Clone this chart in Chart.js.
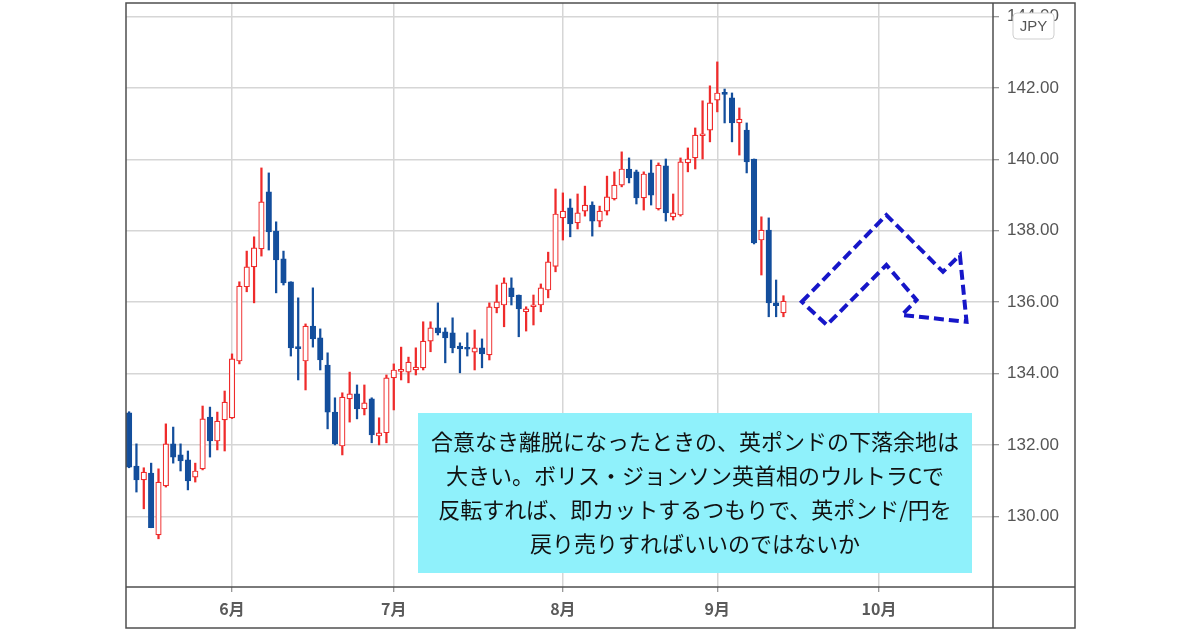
<!DOCTYPE html>
<html lang="ja">
<head>
<meta charset="utf-8">
<title>英ポンド/円 日足</title>
<script src="https://cdn.jsdelivr.net/npm/chart.js@4.4.1/dist/chart.umd.min.js"></script>
<style>
  html, body { margin: 0; padding: 0; background: #fff; }
  #wrap { width: 1200px; height: 630px; }
</style>
</head>
<body>
<div id="wrap"><canvas id="gbpjpyChart" width="1200" height="630"></canvas></div>
<script>
// 日足 (営業日インデックス 0 = 5月中旬, 89 = 9月14日)
const opens = [
  132.90, 131.41, 131.02, 131.21, 129.48, 130.85, 132.03, 131.72, 131.58, 131.10,
  131.33, 132.78, 132.11, 132.70, 132.76, 134.35, 136.43, 136.99, 137.49, 139.09,
  137.99, 137.21, 136.57, 134.72, 134.35, 135.33, 135.00, 134.24, 132.92, 131.97,
  133.29, 133.43, 133.01, 133.29, 132.25, 132.34, 133.88, 134.06, 134.04, 134.10,
  134.16, 134.91, 135.28, 135.17, 135.14, 134.77, 134.70, 134.60, 134.72, 134.52,
  135.84, 135.92, 136.40, 136.20, 135.73, 135.87, 135.92, 136.34, 137.00, 138.36,
  138.64, 138.22, 138.55, 138.72, 138.27, 138.55, 138.89, 139.28, 139.73, 139.65,
  138.92, 139.62, 138.61, 139.82, 138.39, 138.44, 139.90, 140.04, 140.66, 140.82,
  141.66, 141.85, 141.72, 141.02, 140.82, 140.01, 137.74, 138.02, 135.98, 135.70
];
const highs = [
  132.93, 132.03, 131.36, 131.49, 131.33, 132.59, 132.50, 132.03, 131.83, 131.49,
  133.09, 133.06, 132.92, 133.51, 134.55, 136.57, 137.43, 137.83, 139.76, 139.62,
  138.25, 137.43, 136.57, 136.12, 135.39, 136.40, 135.25, 134.58, 133.32, 133.46,
  134.04, 133.68, 133.68, 133.32, 132.76, 133.96, 134.27, 134.74, 134.46, 134.72,
  135.45, 135.45, 135.98, 135.28, 135.56, 134.86, 135.14, 135.22, 134.97, 135.98,
  136.48, 136.68, 136.68, 136.20, 135.87, 136.20, 136.51, 137.40, 139.17, 139.06,
  138.89, 139.03, 139.25, 138.81, 138.69, 139.53, 139.65, 140.21, 140.04, 139.70,
  139.65, 139.98, 139.90, 140.01, 139.03, 140.04, 140.32, 140.88, 141.64, 142.06,
  142.73, 141.97, 141.86, 141.44, 141.02, 140.01, 138.39, 138.36, 136.62, 136.18
];
const lows = [
  131.36, 130.68, 130.21, 129.68, 129.37, 130.82, 131.49, 131.27, 130.74, 130.96,
  131.30, 131.66, 131.86, 131.83, 132.74, 134.27, 136.29, 135.98, 137.29, 137.46,
  136.26, 136.48, 134.49, 133.82, 133.54, 134.74, 134.10, 132.45, 132.00, 131.72,
  132.64, 132.73, 132.84, 132.06, 132.00, 132.06, 132.98, 133.82, 133.74, 133.96,
  134.10, 134.61, 135.08, 134.30, 134.58, 134.02, 134.49, 134.10, 134.16, 134.38,
  135.70, 135.31, 135.92, 135.03, 135.19, 135.36, 135.73, 136.12, 136.85, 137.74,
  137.83, 138.05, 138.41, 137.85, 138.11, 138.44, 138.86, 139.23, 139.34, 138.75,
  138.58, 138.72, 138.58, 138.27, 138.30, 138.41, 139.65, 139.73, 140.01, 140.49,
  141.33, 141.02, 140.49, 140.12, 139.62, 137.63, 136.76, 135.59, 135.59, 135.59
];
const closes = [
  131.38, 131.02, 131.24, 129.68, 130.96, 132.03, 131.66, 131.55, 130.99, 131.27,
  132.73, 132.11, 132.67, 133.20, 134.41, 136.45, 136.99, 137.52, 138.81, 137.97,
  137.18, 136.54, 134.72, 134.70, 135.33, 134.97, 134.38, 132.92, 132.03, 133.34,
  133.43, 133.01, 133.18, 132.28, 132.34, 133.88, 134.10, 134.09, 134.32, 134.18,
  134.91, 135.28, 135.14, 135.00, 134.72, 134.69, 134.68, 134.72, 134.55, 135.87,
  136.01, 136.54, 136.15, 135.81, 135.81, 135.92, 136.40, 137.13, 138.47, 138.55,
  138.19, 138.50, 138.72, 138.27, 138.55, 138.95, 139.28, 139.73, 139.48, 138.92,
  139.59, 139.00, 139.84, 138.50, 138.50, 139.93, 140.01, 140.68, 140.71, 141.58,
  141.86, 141.82, 141.02, 141.13, 139.93, 137.66, 138.02, 135.98, 135.90, 136.03
];

// 月初の営業日インデックスと目盛りラベル
const monthTicks = [14, 36, 59, 80, 102];
const monthLabels = ['6月', '7月', '8月', '9月', '10月'];
const priceTicks = [130, 132, 134, 136, 138, 140, 142, 144];

// 今後の想定シナリオ（破線の矢印）: 営業日インデックス / 価格
const arrowIdx = [91.5, 103.0, 110.7, 113.0, 113.9, 105.1, 107.1, 103.0, 94.9];
const arrowPrice = [136.01, 138.44, 136.85, 137.32, 135.45, 135.64, 136.06, 137.04, 135.36];

const commentLines = [
  '合意なき離脱になったときの、英ポンドの下落余地は',
  '大きい。ボリス・ジョンソン英首相のウルトラCで',
  '反転すれば、即カットするつもりで、英ポンド/円を',
  '戻り売りすればいいのではないか'
];

const UP = '#ef2b2b';
const DOWN = '#134e9c';

const isUp = closes.map((c, i) => c >= opens[i]);
const bodies = opens.map((o, i) => ({ x: i, y: [o, closes[i]] }));
const wicks = lows.map((l, i) => ({ x: i, y: [l, highs[i]] }));

const overlayPlugin = {
  id: 'overlay',
  afterDatasetsDraw(chart) {
    const { ctx, scales: { x, y } } = chart;

    // 破線の矢印
    ctx.save();
    ctx.beginPath();
    arrowIdx.forEach((v, i) => {
      const px = x.getPixelForValue(v);
      const py = y.getPixelForValue(arrowPrice[i]);
      if (i === 0) ctx.moveTo(px, py); else ctx.lineTo(px, py);
    });
    ctx.closePath();
    ctx.setLineDash([10, 5]);
    ctx.lineWidth = 4;
    ctx.strokeStyle = '#1616c8';
    ctx.stroke();
    ctx.restore();

    // コメント枠
    const bx = 418, by = 413, bw = 554, bh = 160;
    ctx.save();
    ctx.fillStyle = '#8ff1fb';
    ctx.fillRect(bx, by, bw, bh);
    ctx.fillStyle = '#111';
    ctx.font = '22px "Noto Sans CJK JP"';
    ctx.textAlign = 'center';
    ctx.textBaseline = 'middle';
    const lh = 34;
    const y0 = by + bh / 2 - lh * (commentLines.length - 1) / 2;
    commentLines.forEach((t, i) => ctx.fillText(t, bx + bw / 2, y0 + i * lh));
    ctx.restore();
  },
  afterDraw(chart) {
    const { ctx, chartArea: a } = chart;
    const outerRight = a.right + 82;
    const outerBottom = a.bottom + 41;
    ctx.save();
    ctx.strokeStyle = '#4f4f4f';
    ctx.lineWidth = 1.5;
    ctx.strokeRect(a.left, a.top, outerRight - a.left, outerBottom - a.top);
    ctx.beginPath();
    ctx.moveTo(a.right, a.top);
    ctx.lineTo(a.right, outerBottom);
    ctx.moveTo(a.left, a.bottom);
    ctx.lineTo(outerRight, a.bottom);
    ctx.stroke();

    // 通貨バッジ
    const bx = a.right + 20, by = 13, bw = 41, bh = 26;
    ctx.beginPath();
    ctx.roundRect(bx, by, bw, bh, 4);
    ctx.fillStyle = '#fff';
    ctx.fill();
    ctx.strokeStyle = '#cfcfcf';
    ctx.lineWidth = 1;
    ctx.stroke();
    ctx.fillStyle = '#555';
    ctx.font = '15px "Liberation Sans"';
    ctx.textAlign = 'center';
    ctx.textBaseline = 'middle';
    ctx.fillText('JPY', bx + bw / 2, by + bh / 2 + 1);
    ctx.restore();
  }
};

new Chart(document.getElementById('gbpjpyChart'), {
  type: 'bar',
  data: {
    datasets: [
      {
        label: 'ヒゲ',
        data: wicks,
        backgroundColor: isUp.map(u => u ? UP : DOWN),
        borderWidth: 0,
        barThickness: 1.6,
        grouped: false,
        order: 2
      },
      {
        label: '実体',
        data: bodies,
        backgroundColor: isUp.map(u => u ? '#ffffff' : DOWN),
        borderColor: isUp.map(u => u ? UP : DOWN),
        borderWidth: 1.2,
        borderSkipped: false,
        barThickness: 5.5,
        minBarLength: 2,
        grouped: false,
        order: 1
      }
    ]
  },
  options: {
    responsive: false,
    animation: false,
    layout: { padding: { left: 126, right: 125, top: 3, bottom: 2 } },
    plugins: {
      legend: { display: false },
      tooltip: { enabled: false }
    },
    scales: {
      x: {
        type: 'linear',
        min: -0.42,
        max: 117.5,
        offset: false,
        afterBuildTicks: scale => { scale.ticks = monthTicks.map(v => ({ value: v })); },
        afterFit: scale => {
          scale.height = 41;
          scale.paddingLeft = 0;
          scale.paddingRight = 0;
        },
        grid: { offset: false, color: '#d6d6d6', lineWidth: 1.5, tickLength: 5, tickColor: '#777', tickWidth: 1 },
        border: { display: false },
        ticks: {
          autoSkip: false,
          maxRotation: 0,
          padding: 7,
          color: '#5a5a5a',
          font: { family: '"Noto Sans CJK JP"', size: 16, weight: 'bold' },
          callback: v => monthLabels[monthTicks.indexOf(v)]
        }
      },
      y: {
        position: 'right',
        min: 128.02,
        max: 144.38,
        afterBuildTicks: scale => { scale.ticks = priceTicks.map(v => ({ value: v })); },
        afterFit: scale => {
          scale.width = 82;
          scale.paddingTop = 0;
          scale.paddingBottom = 0;
        },
        grid: { color: '#d6d6d6', lineWidth: 1.5, tickLength: 6, tickColor: '#777', tickWidth: 1 },
        border: { display: false },
        ticks: {
          padding: 8,
          color: '#555',
          font: { family: '"Liberation Sans"', size: 17 },
          callback: v => v.toFixed(2)
        }
      }
    }
  },
  plugins: [overlayPlugin]
});
</script>
</body>
</html>
